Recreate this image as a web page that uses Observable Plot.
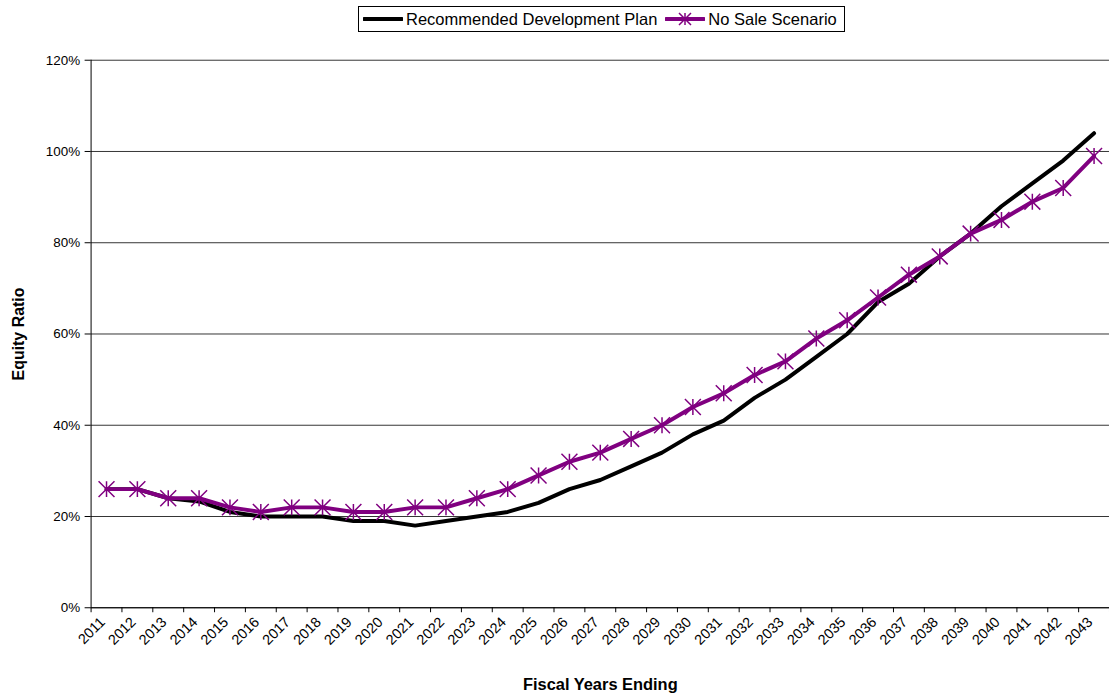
<!DOCTYPE html>
<html><head><meta charset="utf-8">
<script src="https://cdn.jsdelivr.net/npm/d3@7"></script>
<script src="https://cdn.jsdelivr.net/npm/@observablehq/plot@0.6"></script>
<style>
html,body{margin:0;padding:0;background:#fff;overflow:hidden;width:1109px;height:696px;}
body{font-family:"Liberation Sans",Arial,sans-serif;position:relative;}
#chart{position:absolute;left:0;top:0;}
#legend{position:absolute;left:358px;top:6px;width:487px;height:26px;border:1px solid #000;box-sizing:border-box;background:#fff;display:flex;align-items:center;font-size:16.5px;color:#000;white-space:nowrap;}
#legend svg{display:block;}
</style></head><body>
<div id="chart"></div>
<div id="legend"></div>
<script>
const years = [2011,2012,2013,2014,2015,2016,2017,2018,2019,2020,2021,2022,2023,2024,2025,2026,2027,2028,2029,2030,2031,2032,2033,2034,2035,2036,2037,2038,2039,2040,2041,2042,2043];
const recommended = [26,26,24,23.3,21,20,20,20,19,19,18,19,20,21,23,26,28,31,34,38,41,46,50,55,60,67,71,77,82,88,93,98,104];
const noSale = [26,26,24,24,22,21,22,22,21,21,22,22,24,26,29,32,34,37,40,44,47,51,54,59,63,68,73,77,82,85,89,92,99];
const yTicks = [0,20,40,60,80,100,120];
const seriesNames = ["Recommended Development Plan","No Sale Scenario"];
const seriesColors = ["#000000","#800080"];

const recData = years.map((y,i)=>({year:y, value:recommended[i]}));
const nsData = years.map((y,i)=>({year:y, value:noSale[i]}));
const boundaries = [years[0]-0.5, ...years.map(y=>y+0.5)];

const star = {
  draw(ctx, size){
    const r = Math.sqrt(size/Math.PI);
    ctx.moveTo(-r,-r); ctx.lineTo(r,r);
    ctx.moveTo(r,-r); ctx.lineTo(-r,r);
    ctx.moveTo(0,-r); ctx.lineTo(0,r);
  }
};

const chart = Plot.plot({
  width: 1114,
  height: 696,
  marginLeft: 91,
  marginRight: 0,
  marginTop: 60,
  marginBottom: 86,
  style: {fontFamily: '"Liberation Sans", Arial, sans-serif', fontSize: "13px", color: "#000", background: "#fff"},
  x: {type: "linear", domain: [years[0]-0.5, years[years.length-1]+0.5]},
  y: {domain: [0,120]},
  marks: [
    Plot.gridY(yTicks, {stroke: "#000", strokeOpacity: 0.8, strokeWidth: 1}),
    Plot.ruleY([0], {stroke: "#000", strokeWidth: 1}),
    Plot.ruleX([years[0]-0.5], {stroke: "#000", strokeWidth: 1}),
    Plot.axisY({ticks: yTicks, tickFormat: d => d + "%", tickSize: 6, tickPadding: 5, fontSize: 13.5, label: null}),
    Plot.axisX({ticks: boundaries, tickFormat: () => "", tickSize: 5, label: null}),
    Plot.axisX({ticks: years, tickFormat: d => String(d), tickSize: 0, tickPadding: 12, tickRotate: -45, fontSize: 14.5, dx: -4, label: null}),
    Plot.line(recData, {x: "year", y: "value", stroke: seriesColors[0], strokeWidth: 4, strokeLinejoin: "round", strokeLinecap: "round"}),
    Plot.line(nsData, {x: "year", y: "value", stroke: seriesColors[1], strokeWidth: 4, strokeLinejoin: "round", strokeLinecap: "round"}),
    Plot.dot(nsData, {x: "year", y: "value", symbol: star, r: 8, stroke: seriesColors[1], strokeWidth: 1.5, fill: "none"}),
    Plot.text(["Equity Ratio"], {frameAnchor: "left", textAnchor: "middle", dx: -73, rotate: -90, fontWeight: "bold", fontSize: 16}),
    Plot.text(["Fiscal Years Ending"], {frameAnchor: "bottom", lineAnchor: "middle", dy: 77, fontWeight: "bold", fontSize: 16.5})
  ]
});
document.getElementById("chart").appendChild(chart);

// legend
const legend = d3.select("#legend");
seriesNames.forEach((name, i) => {
  const item = legend.append("div").style("display","flex").style("align-items","center")
    .style("margin-left", i === 0 ? "4px" : "8px");
  const s = item.append("svg").attr("width", 40).attr("height", 16);
  s.append("line").attr("x1",1).attr("x2",39).attr("y1",8).attr("y2",8)
    .attr("stroke", seriesColors[i]).attr("stroke-width",4).attr("stroke-linecap","round");
  if (i === 1) {
    s.append("path").attr("d", d3.symbol(star, Math.PI*36)()).attr("transform","translate(20,8)")
      .attr("stroke", seriesColors[i]).attr("stroke-width",1.5).attr("fill","none");
  }
  item.append("span").text(name).style("margin-left","3px");
});
</script>
</body></html>
